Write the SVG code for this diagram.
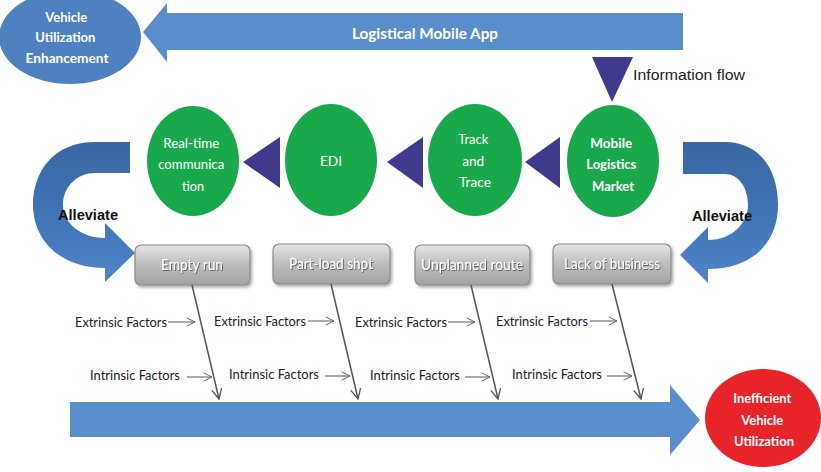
<svg xmlns="http://www.w3.org/2000/svg" width="821" height="472" viewBox="0 0 821 472">
  <defs>
    <linearGradient id="boxGrad" x1="0" y1="0" x2="0" y2="1">
      <stop offset="0" stop-color="#e4e4e4"/>
      <stop offset="0.5" stop-color="#bdbdbd"/>
      <stop offset="1" stop-color="#a2a2a2"/>
    </linearGradient>
    <linearGradient id="curlGrad" x1="0" y1="0" x2="0" y2="1">
      <stop offset="0" stop-color="#3a67a3"/>
      <stop offset="0.5" stop-color="#3f73b4"/>
      <stop offset="1" stop-color="#4f86c8"/>
    </linearGradient>
    <filter id="boxShadow" x="-10%" y="-20%" width="125%" height="150%">
      <feDropShadow dx="1.5" dy="2" stdDeviation="1.5" flood-color="#000" flood-opacity="0.35"/>
    </filter>
    <filter id="txtShadow" x="-10%" y="-30%" width="120%" height="160%">
      <feDropShadow dx="0.8" dy="0.8" stdDeviation="0.6" flood-color="#333" flood-opacity="0.8"/>
    </filter>
    <marker id="chev" viewBox="0 0 12 12" refX="11" refY="6" markerWidth="12" markerHeight="12" markerUnits="userSpaceOnUse" orient="auto">
      <path d="M1,1 L11,6 L1,11" fill="none" stroke="#555" stroke-width="1.3"/>
    </marker>
    <marker id="chevSmall" viewBox="0 0 12 12" refX="11" refY="6" markerWidth="10" markerHeight="10" markerUnits="userSpaceOnUse" orient="auto">
      <path d="M1,1 L11,6 L1,11" fill="none" stroke="#666" stroke-width="1.2"/>
    </marker>
  </defs>
  <style>
    .cond { font-family: "Liberation Sans Narrow", "Lato", "Liberation Sans", sans-serif; }
    .white { fill: #ffffff; }
    .green { fill: #19a84b; }
    .tri { fill: #3f3a8c; }
    .blueArrow { fill: #5a8dcb; }
    .box { fill: url(#boxGrad); stroke: #8a8a8a; stroke-width: 1.2; filter: url(#boxShadow); }
    .boxTxt { font-size: 15px; fill: #fff; filter: url(#txtShadow); text-anchor: middle; }
    .nodeTxt { font-size: 14px; fill: #fff; text-anchor: middle; }
    .factor { font-size: 13.5px; fill: #222; }
    .bone { stroke: #555; stroke-width: 1.5; fill: none; marker-end: url(#chev); }
    .small { stroke: #666; stroke-width: 1.1; fill: none; marker-end: url(#chevSmall); }
    .allev { font-family: "Liberation Sans", Arial, sans-serif; font-weight: bold; font-size: 14px; fill: #111; }
  </style>

  <rect width="821" height="472" fill="#ffffff"/>

  <!-- Outcome ellipse (top-left) -->
  <g id="node-enhancement">
    <ellipse cx="70" cy="37" rx="71" ry="47" fill="#4f80bf"/>
    <text class="cond white" font-size="14" font-weight="bold" text-anchor="middle">
      <tspan x="68" y="22" textLength="42" lengthAdjust="spacingAndGlyphs">Vehicle</tspan>
      <tspan x="67" y="42" textLength="60" lengthAdjust="spacingAndGlyphs">Utilization</tspan>
      <tspan x="67" y="63" textLength="83" lengthAdjust="spacingAndGlyphs">Enhancement</tspan>
    </text>
  </g>

  <!-- Big arrow: Logistical Mobile App -->
  <g id="node-app">
    <polygon class="blueArrow" points="683,13 167,13 167,3 143,32 167,62 167,50 683,50"/>
    <text class="cond white" x="425" y="39" font-size="15" font-weight="bold" text-anchor="middle" textLength="146" lengthAdjust="spacingAndGlyphs">Logistical Mobile App</text>
  </g>

  <!-- Information flow marker -->
  <g id="node-infoflow">
    <polygon class="tri" points="592,57 633,57 612,102"/>
    <text x="633" y="80" font-family="Liberation Sans, Arial, sans-serif" font-size="14" fill="#222" textLength="112" lengthAdjust="spacingAndGlyphs">Information flow</text>
  </g>

  <!-- Green solution circles -->
  <g id="node-realtime">
    <ellipse class="green" cx="193" cy="161" rx="46" ry="55"/>
    <text class="cond nodeTxt">
      <tspan x="193" y="148" textLength="56" lengthAdjust="spacingAndGlyphs">Real-time</tspan>
      <tspan x="193" y="169" textLength="66" lengthAdjust="spacingAndGlyphs">communica</tspan>
      <tspan x="193" y="191" textLength="22" lengthAdjust="spacingAndGlyphs">tion</tspan>
    </text>
  </g>
  <g id="node-edi">
    <ellipse class="green" cx="331" cy="160" rx="46" ry="56"/>
    <text class="cond nodeTxt" x="331" y="166" textLength="22" lengthAdjust="spacingAndGlyphs">EDI</text>
  </g>
  <g id="node-track">
    <ellipse class="green" cx="475" cy="160" rx="47" ry="56"/>
    <text class="cond nodeTxt">
      <tspan x="475" y="144" textLength="30" lengthAdjust="spacingAndGlyphs">Track</tspan>
      <tspan x="475" y="166" textLength="22" lengthAdjust="spacingAndGlyphs">and</tspan>
      <tspan x="475" y="187" textLength="32" lengthAdjust="spacingAndGlyphs">Trace</tspan>
    </text>
  </g>
  <g id="node-market">
    <ellipse class="green" cx="613" cy="161" rx="46" ry="56"/>
    <text class="cond nodeTxt" font-weight="bold">
      <tspan x="613" y="148" textLength="42" lengthAdjust="spacingAndGlyphs">Mobile</tspan>
      <tspan x="613" y="169" textLength="50" lengthAdjust="spacingAndGlyphs">Logistics</tspan>
      <tspan x="613" y="191" textLength="42" lengthAdjust="spacingAndGlyphs">Market</tspan>
    </text>
  </g>

  <!-- Problem boxes -->
  <g id="node-emptyrun">
    <rect class="box" x="135" y="245" width="115" height="40" rx="6"/>
    <text class="cond boxTxt" x="192" y="270" textLength="62" lengthAdjust="spacingAndGlyphs">Empty run</text>
  </g>
  <g id="node-partload">
    <rect class="box" x="273" y="244" width="117" height="40" rx="6"/>
    <text class="cond boxTxt" x="331" y="269" textLength="84" lengthAdjust="spacingAndGlyphs">Part-load shpt</text>
  </g>
  <g id="node-unplanned">
    <rect class="box" x="415" y="245" width="115" height="40" rx="6"/>
    <text class="cond boxTxt" x="472" y="270" textLength="102" lengthAdjust="spacingAndGlyphs">Unplanned route</text>
  </g>
  <g id="node-lackbusiness">
    <rect class="box" x="553" y="244" width="118" height="40" rx="6"/>
    <text class="cond boxTxt" x="612" y="269" textLength="96" lengthAdjust="spacingAndGlyphs">Lack of business</text>
  </g>

  <!-- Spine arrow -->
  <g id="node-spine">
    <polygon class="blueArrow" points="70,402 670,402 670,385 700,420 670,455 670,437 70,437"/>
  </g>

  <!-- Problem ellipse (bottom-right) -->
  <g id="node-inefficient">
    <ellipse cx="763" cy="418" rx="58" ry="49" fill="#e8242b"/>
    <text class="cond white" font-size="14" font-weight="bold" text-anchor="middle">
      <tspan x="764" y="403" textLength="58" lengthAdjust="spacingAndGlyphs">Inefficient</tspan>
      <tspan x="764" y="425" textLength="42" lengthAdjust="spacingAndGlyphs">Vehicle</tspan>
      <tspan x="764" y="446" textLength="60" lengthAdjust="spacingAndGlyphs">Utilization</tspan>
    </text>
  </g>

  <!-- Connectors -->
  <g id="connectors">
    <!-- flow triangles between circles -->
    <polygon class="tri" points="243,162 280,137 280,188"/>
    <polygon class="tri" points="387,162 423,137 423,188"/>
    <polygon class="tri" points="525,162 560,137 560,188"/>

    <!-- curved "alleviate" arrows -->
    <path fill="url(#curlGrad)" d="M130,142 L95,142 C55,142 33,170 33,205 C33,240 60,268 105,268 L105,282 L135,253 L105,223 L105,238 C80,238 63,222 63,205 C63,186 78,173 95,173 L130,173 Z"/>
    <path fill="url(#curlGrad)" d="M683,142 L725,142 C760,142 778,170 778,205 C778,240 755,269 708,269 L708,283 L680,255 L708,227 L708,240 C733,240 748,222 748,205 C748,187 738,174 725,174 L683,174 Z"/>
    <text class="allev" x="58" y="220" textLength="60" lengthAdjust="spacingAndGlyphs">Alleviate</text>
    <text class="allev" x="692" y="221" textLength="60" lengthAdjust="spacingAndGlyphs">Alleviate</text>

    <!-- fishbone branches -->
    <line class="bone" x1="192" y1="285" x2="219" y2="399"/>
    <line class="bone" x1="331" y1="284" x2="358" y2="399"/>
    <line class="bone" x1="471" y1="285" x2="498" y2="399"/>
    <line class="bone" x1="612" y1="284" x2="641" y2="399"/>

    <!-- factor arrows -->
    <line class="small" x1="168" y1="322" x2="195" y2="322"/>
    <line class="small" x1="308" y1="321" x2="334" y2="321"/>
    <line class="small" x1="448" y1="322" x2="475" y2="322"/>
    <line class="small" x1="590" y1="321" x2="617" y2="321"/>
    <line class="small" x1="187" y1="377" x2="212" y2="377"/>
    <line class="small" x1="325" y1="376" x2="350" y2="376"/>
    <line class="small" x1="465" y1="377" x2="490" y2="377"/>
    <line class="small" x1="607" y1="376" x2="632" y2="376"/>
  </g>

  <!-- factor labels -->
  <g id="factor-labels" class="cond factor">
    <text x="75" y="327" textLength="92" lengthAdjust="spacingAndGlyphs">Extrinsic Factors</text>
    <text x="214" y="326" textLength="92" lengthAdjust="spacingAndGlyphs">Extrinsic Factors</text>
    <text x="355" y="327" textLength="92" lengthAdjust="spacingAndGlyphs">Extrinsic Factors</text>
    <text x="496" y="326" textLength="92" lengthAdjust="spacingAndGlyphs">Extrinsic Factors</text>
    <text x="90" y="380" textLength="90" lengthAdjust="spacingAndGlyphs">Intrinsic Factors</text>
    <text x="229" y="379" textLength="90" lengthAdjust="spacingAndGlyphs">Intrinsic Factors</text>
    <text x="370" y="380" textLength="90" lengthAdjust="spacingAndGlyphs">Intrinsic Factors</text>
    <text x="512" y="379" textLength="90" lengthAdjust="spacingAndGlyphs">Intrinsic Factors</text>
  </g>
</svg>
